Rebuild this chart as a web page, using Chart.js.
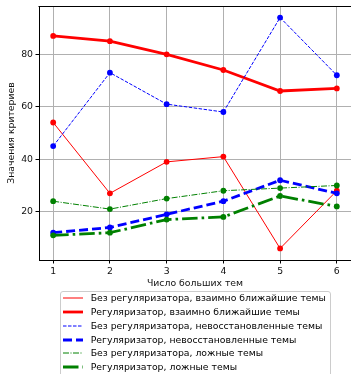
<!DOCTYPE html>
<html>
<head>
<meta charset="utf-8">
<script src="https://cdn.jsdelivr.net/npm/chart.js@4"></script>
<style>
  html, body { margin: 0; padding: 0; background: #fff; }
  #wrap { position: relative; width: 351px; height: 374px; overflow: hidden; }
  #chart { position: absolute; left: 0; top: 0; }
  #legend {
    position: absolute; left: 60px; top: 291px; width: 269px; height: 110px;
    border: 1px solid #cccccc; border-radius: 3px; background: rgba(255,255,255,0.8);
    font-family: 'DejaVu Sans', sans-serif; font-size: 9.3px; color: #000;
  }
  .row { position: absolute; left: 0; height: 14px; line-height: 14px; white-space: nowrap; }
  .row svg { position: absolute; left: 2.3px; top: 0; }
  .row span { position: absolute; left: 29.7px; top: 0; }
</style>
</head>
<body>
<div id="wrap">
  <canvas id="chart" width="351" height="374"></canvas>
  <div id="legend"></div>
</div>
<script>
// Number of large topics on the x axis
const topicCounts = [1, 2, 3, 4, 5, 6];
const yTicks = [20, 40, 60, 80];

// Criterion values per configuration
const noRegMutualNearest = [54, 27, 39, 41, 6, 28];
const regMutualNearest   = [87, 85, 80, 74, 66, 67];
const noRegUnrecovered   = [45, 73, 61, 58, 94, 72];
const regUnrecovered     = [12, 14, 19, 24, 32, 27];
const noRegFalse         = [24, 21, 25, 28, 29, 30];
const regFalse           = [11, 12, 17, 18, 26, 22];

const seriesNames = [
  'Без регуляризатора, взаимно ближайшие темы',
  'Регуляризатор, взаимно ближайшие темы',
  'Без регуляризатора, невосстановленные темы',
  'Регуляризатор, невосстановленные темы',
  'Без регуляризатора, ложные темы',
  'Регуляризатор, ложные темы'
];
const seriesValues = [noRegMutualNearest, regMutualNearest, noRegUnrecovered,
                      regUnrecovered, noRegFalse, regFalse];

// line styles: thin = without regularizer, thick = with regularizer
const styles = [
  { color: '#ff0000', width: 1,   dash: [] },
  { color: '#ff0000', width: 2.8, dash: [] },
  { color: '#0000ff', width: 1,   dash: [3.5, 1.5] },
  { color: '#0000ff', width: 2.8, dash: [9, 4] },
  { color: '#008000', width: 1,   dash: [6, 1.5, 1, 1.5] },
  { color: '#008000', width: 2.8, dash: [15.5, 4, 2.6, 4] }
];

const datasets = seriesValues.map((vals, i) => ({
  label: seriesNames[i],
  data: topicCounts.map((x, j) => ({ x: x, y: vals[j] })),
  borderColor: styles[i].color,
  backgroundColor: styles[i].color,
  borderWidth: styles[i].width,
  borderDash: styles[i].dash,
  pointRadius: 2.9,
  pointBorderWidth: 0,
  pointBackgroundColor: styles[i].color,
  tension: 0,
  fill: false,
  order: seriesValues.length - i
}));

Chart.defaults.font.family = "'DejaVu Sans', sans-serif";
Chart.defaults.font.size = 9.3;
Chart.defaults.color = '#111';

// top and right frame lines around the plot area
const framePlugin = {
  id: 'frame',
  afterDraw(chart) {
    const { ctx, chartArea: a } = chart;
    ctx.save();
    ctx.strokeStyle = '#000';
    ctx.lineWidth = 1;
    ctx.beginPath();
    ctx.moveTo(Math.round(a.left) - 0.5, Math.round(a.top) + 0.5);
    ctx.lineTo(Math.round(a.right) + 0.5, Math.round(a.top) + 0.5);
    ctx.lineTo(Math.round(a.right) + 0.5, Math.round(a.bottom));
    ctx.stroke();
    ctx.restore();
  }
};

new Chart(document.getElementById('chart'), {
  type: 'line',
  data: { datasets },
  options: {
    responsive: false,
    animation: false,
    devicePixelRatio: 1,
    layout: { autoPadding: false, padding: { left: 0, right: 0, top: 6, bottom: 82 } },
    plugins: { legend: { display: false }, tooltip: { enabled: false } },
    scales: {
      x: {
        type: 'linear',
        min: 0.75,
        max: 6.25,
        afterBuildTicks(scale) { scale.ticks = topicCounts.map(v => ({ value: v })); },
        afterFit(scale) {
          scale.height = 32;
          scale.paddingLeft = 0;
          scale.paddingRight = 0;
        },
        ticks: { padding: 2.2, color: '#111', callback: v => String(v), maxRotation: 0 },
        grid: { color: '#b0b0b0', lineWidth: 1, tickColor: '#000', tickLength: 3.5, tickWidth: 1 },
        border: { display: true, color: '#000', width: 1 },
        title: { display: true, text: 'Число больших тем', color: '#111',
                 padding: { top: 0, bottom: 2.8 } }
      },
      y: {
        type: 'linear',
        min: 1.6,
        max: 98.4,
        afterBuildTicks(scale) { scale.ticks = yTicks.map(v => ({ value: v })); },
        afterFit(scale) {
          scale.width = 39;
          scale.paddingTop = 0;
          scale.paddingBottom = 0;
        },
        ticks: { padding: 2.5, color: '#111', callback: v => String(v) },
        grid: { color: '#b0b0b0', lineWidth: 1, tickColor: '#000', tickLength: 3.5, tickWidth: 1 },
        border: { display: true, color: '#000', width: 1 },
        title: { display: true, text: 'Значения критериев', color: '#111',
                 padding: { top: 6, bottom: 0 } }
      }
    }
  },
  plugins: [framePlugin]
});

// legend list with line samples
const legend = document.getElementById('legend');
const svgNS = 'http://www.w3.org/2000/svg';
seriesNames.forEach((name, i) => {
  const row = document.createElement('div');
  row.className = 'row';
  row.style.top = (-0.6 + i * 13.75) + 'px';
  const svg = document.createElementNS(svgNS, 'svg');
  svg.setAttribute('width', '20');
  svg.setAttribute('height', '14');
  const ln = document.createElementNS(svgNS, 'line');
  ln.setAttribute('x1', '0'); ln.setAttribute('x2', '20');
  ln.setAttribute('y1', '7'); ln.setAttribute('y2', '7');
  ln.setAttribute('stroke', styles[i].color);
  ln.setAttribute('stroke-width', String(styles[i].width));
  if (styles[i].dash.length) ln.setAttribute('stroke-dasharray', styles[i].dash.join(' '));
  svg.appendChild(ln);
  const span = document.createElement('span');
  span.textContent = name;
  row.appendChild(svg);
  row.appendChild(span);
  legend.appendChild(row);
});
</script>
</body>
</html>
